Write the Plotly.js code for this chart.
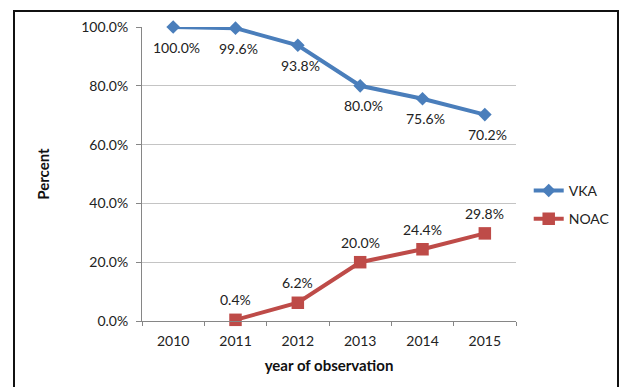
<!DOCTYPE html>
<html>
<head>
<meta charset="utf-8">
<script src="https://cdn.plot.ly/plotly-3.0.1.min.js"></script>
<style>
  html, body { margin: 0; padding: 0; background: #fff; }
  #wrap { position: relative; width: 619px; height: 387px; }
  #chart { position: absolute; left: 0; top: 0; width: 619px; height: 387px; }
  #frame {
    position: absolute; left: 13px; top: 10px; width: 602px; height: 377px;
    border: 2px solid #111; border-bottom: none; pointer-events: none;
  }
</style>
</head>
<body>
<div id="wrap">
  <div id="chart"></div>
  <div id="frame"></div>
</div>
<script>
// Share of patients on each anticoagulant, by year of observation
const years = ['2010', '2011', '2012', '2013', '2014', '2015'];
const vka   = [100.0, 99.6, 93.8, 80.0, 75.6, 70.2];
const noac  = [null, 0.4, 6.2, 20.0, 24.4, 29.8];
const yTicks = [0, 20, 40, 60, 80, 100];

const FONT = 'Lato, "Noto Sans", sans-serif';
const TXT = '#222222';
const BLUE = '#4A7EBB';
const RED = '#BE4B48';

const traces = [
  {
    x: years, y: vka, name: 'VKA', type: 'scatter', mode: 'lines+markers',
    legendgroup: 'a', cliponaxis: false, hoverinfo: 'skip',
    line: { color: BLUE, width: 4 },
    marker: { symbol: 'diamond', size: 10.5, color: BLUE }
  },
  {
    x: years, y: noac, name: 'NOAC', type: 'scatter', mode: 'lines+markers',
    legendgroup: 'b', cliponaxis: false, hoverinfo: 'skip',
    line: { color: RED, width: 4 },
    marker: { symbol: 'square', size: 12.5, color: RED }
  }
];

// Value labels: VKA below its points, NOAC above.
// On a category axis annotations are placed by category index.
const fmt = v => v.toFixed(1) + '%';
const labelFont = { family: FONT, size: 14, color: TXT };
const annotations = [];
years.forEach((yr, i) => {
  if (vka[i] != null) annotations.push({ xref: 'x', yref: 'y', x: i, y: vka[i], text: fmt(vka[i]), showarrow: false, xshift: 3, yshift: -20, font: labelFont });
  if (noac[i] != null) annotations.push({ xref: 'x', yref: 'y', x: i, y: noac[i], text: fmt(noac[i]), showarrow: false, yshift: 20, font: labelFont });
});

const layout = {
  width: 619, height: 387,
  margin: { l: 142, r: 102.5, t: 26.7, b: 66.3, autoexpand: false },
  paper_bgcolor: '#ffffff', plot_bgcolor: '#ffffff',
  font: { family: FONT, size: 14, color: TXT },
  showlegend: true,
  legend: {
    x: 1.034, xanchor: 'left', y: 0.395, yanchor: 'middle',
    traceorder: 'grouped', tracegroupgap: 7,
    font: { family: FONT, size: 14, color: TXT },
    bgcolor: 'rgba(0,0,0,0)'
  },
  xaxis: {
    type: 'category', range: [-0.5, 5.5], fixedrange: true,
    showgrid: false, showline: true, linecolor: '#868686', linewidth: 1,
    ticks: 'outside', tickson: 'boundaries', ticklen: 4, tickcolor: '#868686',
    ticklabelstandoff: 7,
    tickfont: { family: FONT, size: 14, color: TXT },
    title: { text: 'year of observation', standoff: 12, font: { family: FONT, size: 15, color: '#111', weight: 'bold' } }
  },
  yaxis: {
    range: [0, 100], fixedrange: true,
    tickvals: yTicks, ticktext: yTicks.map(fmt),
    showgrid: true, gridcolor: '#C4C4C4', gridwidth: 1,
    zeroline: false,
    showline: true, linecolor: '#868686', linewidth: 1,
    ticks: 'outside', ticklen: 5, tickcolor: '#868686',
    ticklabelstandoff: 5,
    tickfont: { family: FONT, size: 14, color: TXT },
    title: { text: 'Percent', standoff: 27, font: { family: FONT, size: 15, color: '#111', weight: 'bold' } }
  },
  annotations: annotations
};

Plotly.newPlot('chart', traces, layout, { staticPlot: true, displayModeBar: false });
</script>
</body>
</html>
